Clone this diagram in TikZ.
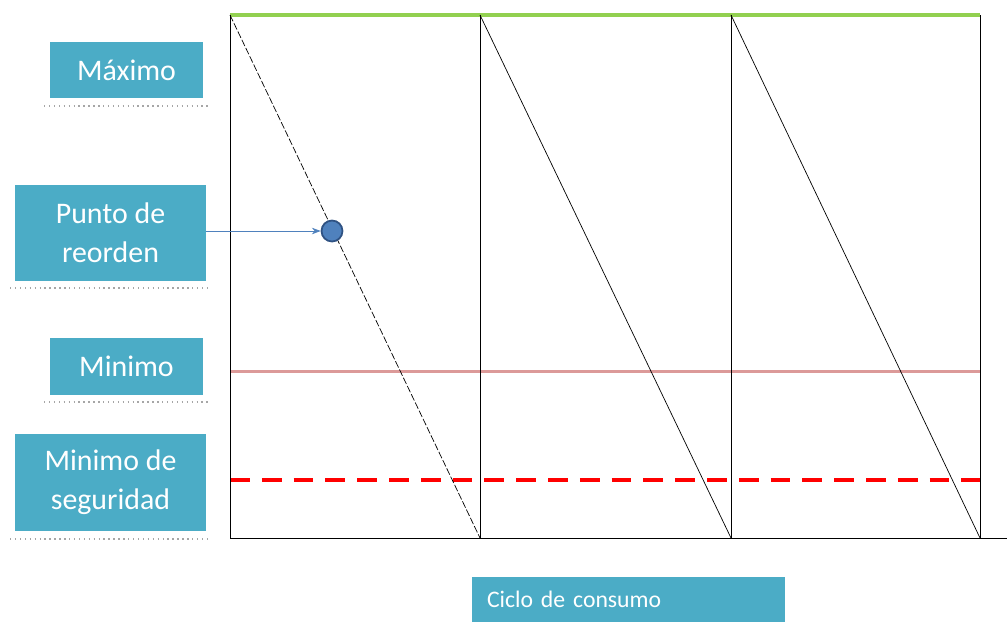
\documentclass[tikz,border=0pt]{standalone}
\usepackage{fontspec}
\setmainfont{Carlito}
\usepackage{tikz}
\usetikzlibrary{arrows.meta,positioning}

\definecolor{cajaazul}{HTML}{4BACC6}
\definecolor{verdemax}{HTML}{92D050}
\definecolor{rosamin}{HTML}{DC9A99}
\definecolor{puntoazul}{HTML}{4F81BD}
\definecolor{bordepunto}{HTML}{2F5283}

\tikzset{
  caja/.style={fill=cajaazul, text=white, font=\fontsize{17}{22}\selectfont, align=center, inner sep=0pt},
  sombra/.style={gray!70, line width=0.8pt, dotted},
  ciclo/.style={thin, black},
}

\begin{document}
\begin{tikzpicture}[x=0.02cm, y=-0.02cm]
\useasboundingbox (0,0) rectangle (1007,626);

% cajas de la izquierda
\node[caja, minimum width=3.06cm, minimum height=1.12cm] (maximo) at (126.5,70) {M\'aximo};
\node[caja, minimum width=3.82cm, minimum height=1.92cm] (reorden) at (110.5,233) {Punto de\\reorden};
\node[caja, minimum width=3.06cm, minimum height=1.14cm] (minimo) at (126.5,366.5) {Minimo};
\node[caja, minimum width=3.82cm, minimum height=1.94cm] (seguridad) at (110.5,482.5) {Minimo de\\seguridad};
\node[caja, minimum width=6.26cm, minimum height=0.9cm, align=left, text width=5.66cm, inner xsep=0.3cm, font=\fontsize{13.5}{16}\selectfont] (ciclo) at (628.5,599.5) {Ciclo de consumo};

% sombras
\draw[sombra] (44,106) -- (208,106);
\draw[sombra] (10,288) -- (211,288);
\draw[sombra] (44,402) -- (208,402);
\draw[sombra] (10,539) -- (211,539);

% niveles
\draw[verdemax, line width=2pt] (230,15) -- (980,15);
\draw[rosamin, line width=1.7pt] (230,371) -- (980,371);
\draw[red, line width=2.2pt, dash pattern=on 11.3pt off 6.8pt] (230,480) -- (980,480);

% ciclos
\foreach \x in {230,480,731,980}
  \draw[ciclo] (\x,15) -- (\x,538);
\draw[ciclo] (230,538) -- (1007,538);
\draw[ciclo, dash pattern=on 4pt off 1.2pt] (230,15) -- (480,538);
\draw[ciclo] (480,15) -- (731,538);
\draw[ciclo] (731,15) -- (980,538);

% punto de reorden
\node[circle, fill=puntoazul, draw=bordepunto, line width=1pt, minimum size=0.42cm, inner sep=0pt] (punto) at (332,231) {};
\draw[puntoazul, thin, -{Stealth[length=5pt]}] (reorden.east |- punto.west) -- (punto.west);
\end{tikzpicture}
\end{document}
